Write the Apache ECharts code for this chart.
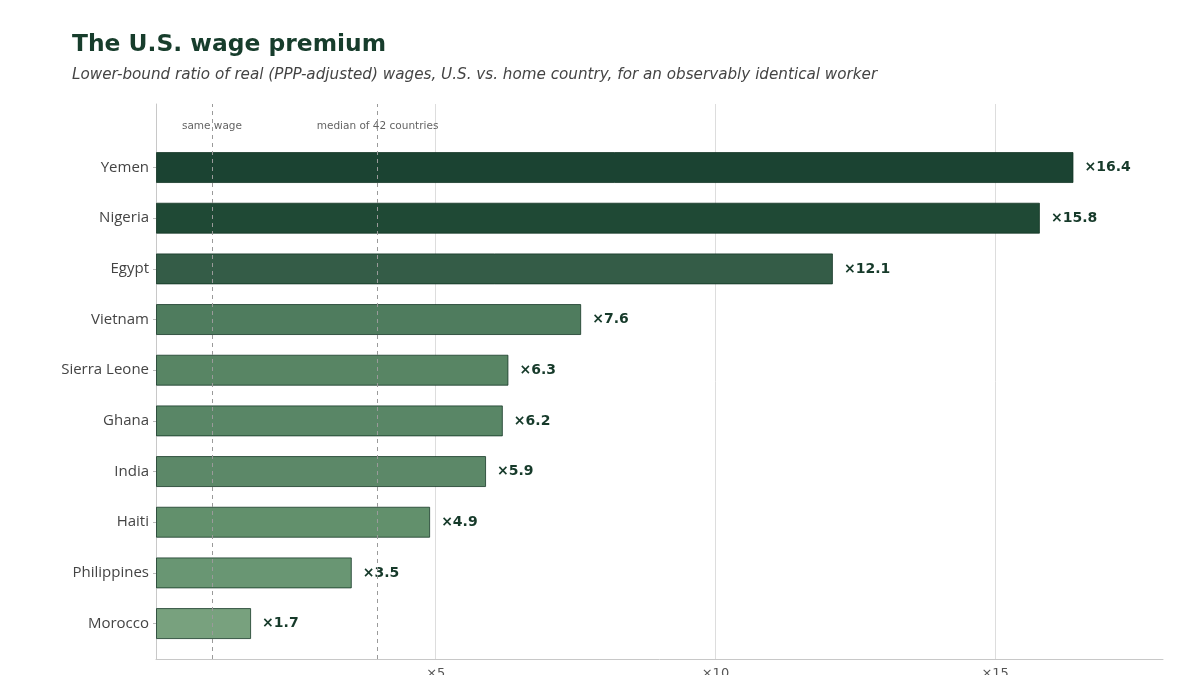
<!DOCTYPE html>
<html><head><meta charset="utf-8">
<script src="https://cdn.jsdelivr.net/npm/echarts@6/dist/echarts.min.js"></script>
<style>html,body{margin:0;padding:0;background:#fff}#c{width:1200px;height:675px}</style>
</head><body><div id="c"></div>
<script>
const countries = ['Yemen','Nigeria','Egypt','Vietnam','Sierra Leone','Ghana','India','Haiti','Philippines','Morocco'];
const ratios = [16.4, 15.8, 12.1, 7.6, 6.3, 6.2, 5.9, 4.9, 3.5, 1.7];
const barColors = ['#1b4332','#1f4935','#345c47','#4f7c5e','#588564','#598666','#5c8868','#62906c','#699673','#78a17e'];
const refLines = [1, 3.96];
const refLabels = ['same wage', 'median of 42 countries'];
const xTicks = [0, 5, 10, 15];

const chart = echarts.init(document.getElementById('c'), null, {renderer:'canvas'});
const L = 156, R = 1200 - 1163;
chart.setOption({
  backgroundColor: '#fff',
  animation: false,
  title: [
    {text: 'The U.S. wage premium', left: 67, top: 28,
     textStyle: {fontFamily: 'DejaVu Sans', fontWeight: 'bold', fontSize: 23.4, color: '#173d2c'}},
    {text: 'Lower-bound ratio of real (PPP-adjusted) wages, U.S. vs. home country, for an observably identical worker',
     left: 67, top: 63,
     textStyle: {fontFamily: 'DejaVu Sans', fontStyle: 'italic', fontWeight: 'normal', fontSize: 15.2, color: '#444'}}
  ],
  grid: [
    {left: L, right: R, top: 104, bottom: 675 - 659, containLabel: false, outerBoundsMode: 'none'},
    {left: L, right: R, top: 142.2, bottom: 675 - 648.9, containLabel: false, outerBoundsMode: 'none'}
  ],
  xAxis: [
    {gridIndex: 0, type: 'value', min: 0, max: 18, interval: 5,
     axisLine: {show: true, lineStyle: {color: '#c8c8c8', width: 1}},
     axisTick: {show: false},
     splitLine: {show: true, showMaxLine: false, showMinLine: false, lineStyle: {color: '#dddddd', width: 1}},
     axisLabel: {margin: 8, fontFamily: 'DejaVu Sans', fontSize: 13, color: '#555', showMaxLabel: false,
       formatter: v => xTicks.indexOf(v) > 0 ? '×' + v : ''}},
    {gridIndex: 1, type: 'value', min: 0, max: 18, show: false}
  ],
  yAxis: [
    {gridIndex: 0, type: 'value', min: 0, max: 1,
     axisLine: {show: true, lineStyle: {color: '#c8c8c8', width: 1}},
     axisTick: {show: false}, axisLabel: {show: false}, splitLine: {show: false}},
    {gridIndex: 1, type: 'category', data: countries, inverse: true,
     axisLine: {show: false},
     axisTick: {show: true, alignWithLabel: true, length: 3, lineStyle: {color: '#bbb'}},
     axisLabel: {margin: 7, fontFamily: 'Open Sans', fontSize: 15, color: '#444'}}
  ],
  series: [
    {type: 'scatter', xAxisIndex: 0, yAxisIndex: 0, symbolSize: 0, silent: true,
     data: refLines.map((x, i) => ({value: [x, 0.96], label: {show: true, formatter: refLabels[i]}})),
     label: {position: 'inside', fontFamily: 'DejaVu Sans', fontSize: 10.5, color: '#3a3a3a'},
     markLine: {silent: true, symbol: 'none', label: {show: false},
       lineStyle: {color: '#9a9a9a', type: [4, 4], width: 1},
       data: refLines.map(x => ({xAxis: x}))}},
    {type: 'bar', xAxisIndex: 1, yAxisIndex: 1, barWidth: 31,
     data: ratios.map((v, i) => ({value: v, itemStyle: {color: barColors[i]}})),
     itemStyle: {borderColor: 'rgba(15,50,32,0.75)', borderWidth: 1},
     label: {show: true, position: 'right', distance: 11, formatter: p => '×' + p.value.toFixed(1),
       fontFamily: 'DejaVu Sans', fontWeight: 'bold', fontSize: 14, color: '#163a2a'}}
  ]
});
</script></body></html>
